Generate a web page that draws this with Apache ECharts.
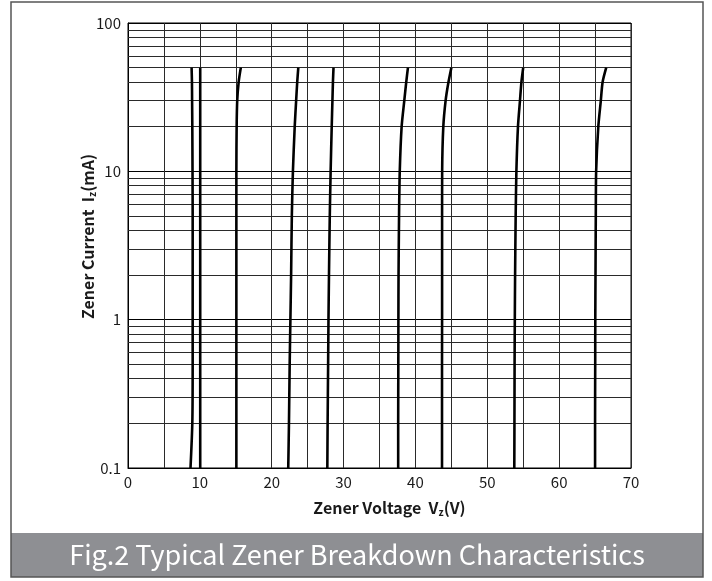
<!DOCTYPE html>
<html>
<head>
<meta charset="utf-8">
<script src="https://cdn.jsdelivr.net/npm/echarts@6/dist/echarts.min.js"></script>
<style>html,body{margin:0;padding:0;background:#fff}#c{width:712px;height:581px}</style>
</head>
<body>
<div id="c"></div>
<script>
// Current sample points (mA) shared by every curve
const currents = [0.1, 0.2, 0.5, 1, 2, 5, 10, 20, 30, 40, 50];
// Zener voltage (V) of each device at those currents
const curve9V  = [8.7, 8.95, 9.0, 9.0, 9.0, 9.0, 8.98, 8.95, 8.92, 8.9, 8.85];
const curve10V = [10.05, 10.05, 10.05, 10.05, 10.05, 10.05, 10.05, 10.05, 10.05, 10.05, 10.05];
const curve15V = [15.08, 15.08, 15.08, 15.08, 15.08, 15.08, 15.08, 15.12, 15.2, 15.4, 15.7];
const curve22V = [22.3, 22.4, 22.5, 22.6, 22.7, 22.8, 22.95, 23.2, 23.4, 23.55, 23.7];
const curve28V = [27.74, 27.78, 27.85, 27.9, 27.97, 28.08, 28.2, 28.35, 28.45, 28.52, 28.6];
const curve38V = [37.6, 37.6, 37.62, 37.63, 37.65, 37.72, 37.82, 38.08, 38.45, 38.72, 38.96];
const curve44V = [43.7, 43.7, 43.7, 43.71, 43.71, 43.71, 43.72, 43.88, 44.2, 44.6, 45.0];
const curve54V = [53.76, 53.78, 53.8, 53.83, 53.87, 53.95, 54.05, 54.27, 54.55, 54.75, 55.0];
const curve65V = [65.0, 65.0, 65.02, 65.03, 65.06, 65.1, 65.15, 65.45, 65.8, 66.05, 66.55];
const curves = [curve9V, curve10V, curve15V, curve22V, curve28V, curve38V, curve44V, curve54V, curve65V];
// Minor log grid values
const minorGrid = [0.2,0.3,0.4,0.5,0.6,0.7,0.8,0.9, 2,3,4,5,6,7,8,9, 20,30,40,50,60,70,80,90];
const captionText = 'Fig.2 Typical Zener Breakdown Characteristics';

const FONT = 'Noto Sans CJK SC';
const chart = echarts.init(document.getElementById('c'), null, {renderer: 'canvas'});

const series = curves.map((vs, idx) => ({
  type: 'line',
  data: vs.map((v, i) => [v, currents[i]]),
  showSymbol: false,
  smooth: 0.25,
  silent: true,
  z: 5,
  lineStyle: {color: '#000', width: 2.6},
  markLine: idx === 0 ? {
    silent: true, symbol: 'none', label: {show: false},
    lineStyle: {color: '#2a2a2a', width: 1, type: 'solid'},
    data: minorGrid.map(v => ({yAxis: v})),
    animation: false
  } : undefined
}));

chart.setOption({
  animation: false,
  backgroundColor: '#fff',
  grid: {left: 128, right: 81, top: 23, bottom: 113, show: true, borderColor: '#000', borderWidth: 1},
  xAxis: {
    type: 'value', min: 0, max: 70, interval: 5,
    name: 'Zener Voltage  V{sub|z}(V)', nameLocation: 'middle', nameGap: 30,
    nameTextStyle: {fontFamily: FONT, fontWeight: 'bold', fontSize: 16, color: '#1a1a1a', padding: [0, 0, 0, 20],
      rich: {sub: {fontFamily: FONT, fontWeight: 'bold', fontSize: 10, color: '#1a1a1a', padding: [9, 0, 0, 0]}}},
    axisLine: {show: true, lineStyle: {color: '#000', width: 1}},
    axisTick: {show: false},
    axisLabel: {fontFamily: FONT, fontSize: 15, color: '#1a1a1a', margin: 7,
      formatter: v => (v % 10 === 0 ? String(v) : '')},
    splitLine: {show: true, lineStyle: {color: '#2a2a2a', width: 1}}
  },
  yAxis: {
    type: 'log', logBase: 10, min: 0.1, max: 100,
    name: 'Zener Current  I{sub|z}(mA)', nameLocation: 'middle', nameGap: 31, nameMoveOverlap: false,
    nameTextStyle: {fontFamily: FONT, fontWeight: 'bold', fontSize: 16, color: '#1a1a1a', padding: [0, 0, 0, 18],
      rich: {sub: {fontFamily: FONT, fontWeight: 'bold', fontSize: 10, color: '#1a1a1a', padding: [9, 0, 0, 0]}}},
    axisLine: {show: true, lineStyle: {color: '#000', width: 1}},
    axisTick: {show: false},
    axisLabel: {fontFamily: FONT, fontSize: 15, color: '#1a1a1a', margin: 7,
      formatter: v => String(v)},
    splitLine: {show: true, lineStyle: {color: '#000', width: 1}},
    minorSplitLine: {show: false}
  },
  graphic: [
    {type: 'rect', shape: {x: 11, y: 533, width: 692, height: 44}, style: {fill: '#8e8f93'}, silent: true, z: -1},
    {type: 'rect', shape: {x: 11, y: 2, width: 692, height: 575}, style: {fill: null, stroke: '#555', lineWidth: 1.5}, silent: true},
    {type: 'text', x: 357, y: 555, style: {text: captionText, fill: '#fff', font: '27px "Noto Sans CJK SC"', textAlign: 'center', textVerticalAlign: 'middle'}, silent: true}
  ],
  series: series
});
</script>
</body>
</html>
